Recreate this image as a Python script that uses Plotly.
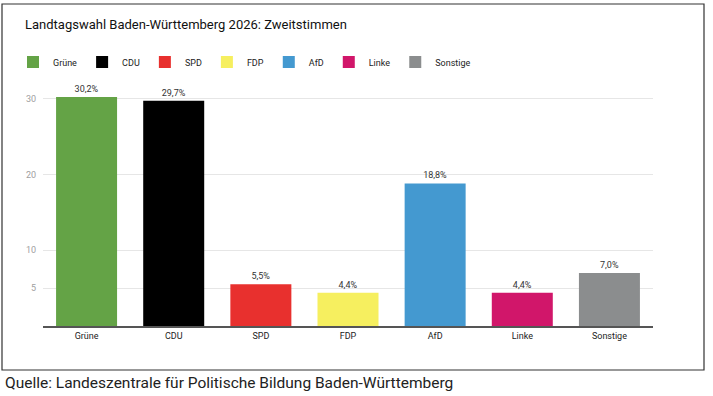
import plotly.graph_objects as go

parties = ["Grüne", "CDU", "SPD", "FDP", "AfD", "Linke", "Sonstige"]
shares = [30.2, 29.7, 5.5, 4.4, 18.8, 4.4, 7.0]
colors = ["#64a346", "#000000", "#e8302e", "#f6ef5f", "#4499d0", "#d1166a", "#8b8d8e"]
tick_vals = [5, 10, 20, 30]
tick_text = ["5", "10", "20", "30"]

title_text = "Landtagswahl Baden-Württemberg 2026: Zweitstimmen"
source_text = "Quelle: Landeszentrale für Politische Bildung Baden-Württemberg"

W, H = 713, 396
ML, MR, MT, MB = 43, 60, 94, 70
PW, PH = W - ML - MR, H - MT - MB


def px_x(p):
    return (p - ML) / PW


def px_y(p):
    return (H - MB - p) / PH


fig = go.Figure()
for name, val, col in zip(parties, shares, colors):
    fig.add_trace(go.Bar(
        x=[name], y=[val], name=name,
        marker=dict(color=col, line=dict(width=0)),
        text=[f"{val:.1f}%".replace(".", ",")],
        textposition="outside",
        textfont=dict(size=9, color="#333333"),
        cliponaxis=False,
    ))

fig.update_layout(
    width=W, height=H,
    margin=dict(l=ML, r=MR, t=MT, b=MB),
    paper_bgcolor="white", plot_bgcolor="white",
    barmode="relative", bargap=0.3,
    font=dict(family="Roboto, Arial, sans-serif", size=9, color="#222222"),
    title=dict(text=title_text, x=25 / W, xanchor="left", xref="container",
               y=1 - 24 / H, yanchor="middle", yref="container",
               font=dict(size=13, color="#111111")),
    legend=dict(orientation="h", x=13 / W, xanchor="left", xref="container",
                y=1 - 62 / H, yanchor="middle", yref="container",
                font=dict(size=9, color="#222222"), itemwidth=30,
                traceorder="normal"),
    showlegend=True,
    xaxis=dict(categoryorder="array", categoryarray=parties,
               showline=True, linecolor="#555555", linewidth=1.5,
               ticks="", tickfont=dict(size=9, color="#222222"),
               showgrid=False),
    yaxis=dict(range=[0, 30.6], tickvals=tick_vals, ticktext=tick_text,
               showgrid=True, gridcolor="#e6e6e6", gridwidth=1,
               zeroline=False, ticks="", ticklabelstandoff=6,
               tickfont=dict(size=9, color="#a0a0a0")),
    shapes=[dict(type="rect", xref="paper", yref="paper",
                 x0=px_x(2), x1=px_x(704), y0=px_y(370), y1=px_y(4),
                 line=dict(color="#333333", width=1.2), layer="below")],
    annotations=[dict(text=source_text, xref="paper", yref="paper",
                      x=px_x(3), y=px_y(383), xanchor="left", yanchor="middle",
                      showarrow=False,
                      font=dict(size=15.5, color="#222222",
                                family="Roboto, Arial, sans-serif"))],
)

fig.write_html("out.html", config={"displayModeBar": False},
               post_script="document.body.style.margin='0';document.body.style.overflow='hidden';")
